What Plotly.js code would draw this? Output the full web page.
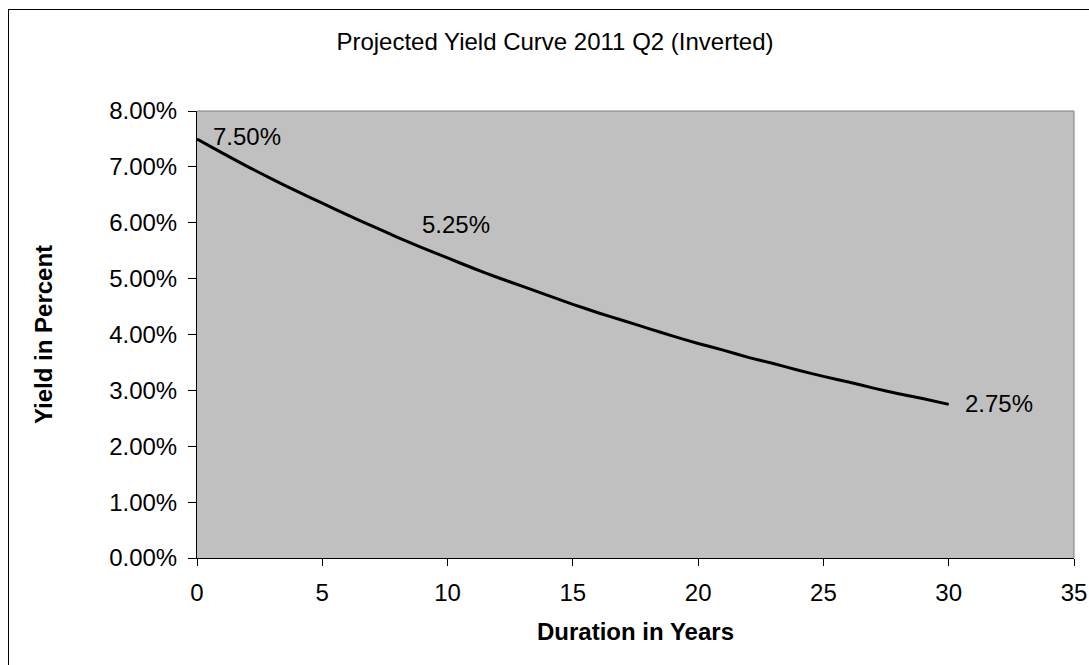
<!DOCTYPE html>
<html>
<head>
<meta charset="utf-8">
<script src="https://cdn.plot.ly/plotly-3.0.1.min.js"></script>
<style>
  html, body { margin: 0; padding: 0; background: #fff; overflow: hidden; }
  #wrap { position: relative; width: 1089px; height: 665px; }
  #chart { position: absolute; left: 0; top: 0; width: 1089px; height: 665px; }
  #frame { position: absolute; left: 8px; top: 9px; width: 1200px; height: 800px;
           border-left: 1px solid #000; border-top: 1px solid #000; pointer-events: none; }
</style>
</head>
<body>
<div id="wrap">
  <div id="chart"></div>
  <div id="frame"></div>
</div>
<script>
// Duration in years
const durations = [0,1,2,3,4,5,6,7,8,9,10,11,12,13,14,15,16,17,18,19,20,21,22,23,24,25,26,27,28,29,30];
// Projected yield (fraction)
const yields = [0.0750,0.0725,0.0701,0.0678,0.0656,0.0635,0.0614,0.0594,0.0574,0.0555,
                0.0537,0.0519,0.0502,0.0486,0.0470,0.0454,0.0439,0.0425,0.0411,0.0397,
                0.0384,0.0372,0.0359,0.0348,0.0336,0.0325,0.0315,0.0304,0.0294,0.0285,0.0275];
// Data label values
const labelValues = [0.0750, 0.0525, 0.0275];
// Where each label sits (data coordinates)
const labelX = [0.55, 8.9, 30.55];
const labelY = [0.0755, 0.0596, 0.02766];

const xTicks = [0,5,10,15,20,25,30,35];
const yTicks = [0,0.01,0.02,0.03,0.04,0.05,0.06,0.07,0.08];

const FONT = 'Liberation Sans, Arial, sans-serif';

const trace = {
  x: durations, y: yields, type: 'scatter', mode: 'lines',
  line: { color: '#000', width: 3, shape: 'spline', smoothing: 0.3 },
  hoverinfo: 'skip', showlegend: false
};

const annotations = labelValues.map((v, i) => ({
  x: labelX[i], y: labelY[i], xref: 'x', yref: 'y',
  text: (v * 100).toFixed(2) + '%', showarrow: false,
  xanchor: 'left', yanchor: 'middle',
  font: { family: FONT, size: 24, color: '#000' }
}));

const layout = {
  width: 1089, height: 665,
  margin: { l: 197, r: 15, t: 111, b: 107 },
  paper_bgcolor: '#fff', plot_bgcolor: '#C0C0C0',
  font: { family: FONT, size: 24, color: '#000' },
  title: { text: 'Projected Yield Curve 2011 Q2 (Inverted)', x: 0.5096, xref: 'container', xanchor: 'center',
           y: 1 - 42/665, yref: 'container', yanchor: 'middle',
           font: { family: FONT, size: 24, color: '#000' } },
  xaxis: {
    range: [0, 35], tickvals: xTicks, ticktext: xTicks.map(String),
    showgrid: false, zeroline: false, showline: true, linecolor: '#000', linewidth: 1,
    ticks: 'outside', ticklen: 7, tickcolor: '#000', tickwidth: 1,
    tickfont: { family: FONT, size: 24, color: '#000' }, ticklabelstandoff: 6,
    title: { text: '<b>Duration in Years</b>', font: { family: FONT, size: 24, color: '#000' }, standoff: 18 },
    fixedrange: true
  },
  yaxis: {
    range: [0, 0.08], tickvals: yTicks, tickformat: '.2%',
    showgrid: false, zeroline: false, showline: true, linecolor: '#000', linewidth: 1,
    ticks: 'outside', ticklen: 8, tickcolor: '#000', tickwidth: 1,
    tickfont: { family: FONT, size: 24, color: '#000' }, ticklabelstandoff: 6,
    title: { text: '<b>Yield in Percent</b>', font: { family: FONT, size: 24, color: '#000' }, standoff: 49 },
    fixedrange: true
  },
  shapes: [
    { type: 'line', xref: 'paper', yref: 'paper', x0: 0, x1: 1, y0: 1, y1: 1, line: { color: '#808080', width: 1 } },
    { type: 'line', xref: 'paper', yref: 'paper', x0: 1, x1: 1, y0: 0, y1: 1, line: { color: '#808080', width: 1 } }
  ],
  annotations: annotations,
  showlegend: false
};

Plotly.newPlot('chart', [trace], layout, { displayModeBar: false, staticPlot: true });
</script>
</body>
</html>
